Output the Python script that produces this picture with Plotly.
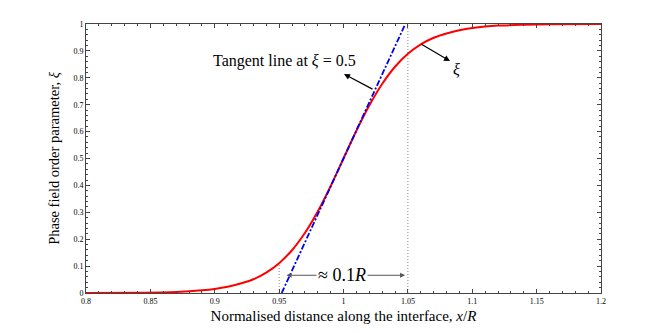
import plotly.graph_objects as go

# phase field profile
x_pos = [0.80, 0.84, 0.87, 0.89, 0.90, 0.91, 0.92, 0.93, 0.94, 0.95, 0.96, 0.97, 0.98, 0.99,
         1.00, 1.01, 1.02, 1.03, 1.04, 1.05, 1.06, 1.07, 1.08, 1.09, 1.10, 1.12, 1.14, 1.16, 1.20]
xi = [0.0, 0.001, 0.004, 0.010, 0.015, 0.023, 0.035, 0.051, 0.076, 0.111, 0.159, 0.223, 0.303, 0.397,
      0.5, 0.603, 0.697, 0.777, 0.841, 0.889, 0.924, 0.949, 0.965, 0.977, 0.985, 0.994, 0.997, 0.999, 1.0]

# tangent line at xi = 0.5
tan_x = [0.952, 1.048]
tan_y = [0.0, 1.0]

# dotted guides
guide_x = [0.95, 1.05]
guide_top = [0.111, 1.0]

x_ticks = [0.8, 0.85, 0.9, 0.95, 1.0, 1.05, 1.1, 1.15, 1.2]
x_labels = ["0.8", "0.85", "0.9", "0.95", "1", "1.05", "1.1", "1.15", "1.2"]
y_ticks = [0, 0.1, 0.2, 0.3, 0.4, 0.5, 0.6, 0.7, 0.8, 0.9, 1.0]
y_labels = ["0", "0.1", "0.2", "0.3", "0.4", "0.5", "0.6", "0.7", "0.8", "0.9", "1"]

serif = "'Liberation Serif', 'DejaVu Serif', serif"

fig = go.Figure()
for gx, gt in zip(guide_x, guide_top):
    fig.add_trace(go.Scatter(x=[gx, gx], y=[0, gt], mode="lines",
                             line=dict(color="#888888", width=1, dash="1px,2px"), hoverinfo="skip"))
fig.add_trace(go.Scatter(x=x_pos, y=xi, mode="lines", line=dict(color="#ff0000", width=2, shape="spline", smoothing=0.6)))
fig.add_trace(go.Scatter(x=tan_x, y=tan_y, mode="lines", line=dict(color="#0000ee", width=1.8, dash="6px,2px,2px,2px")))

axis_common = dict(showgrid=False, zeroline=False, showline=True, linecolor="#444444", linewidth=1,
                   mirror="allticks", ticks="inside", ticklen=4, tickcolor="#444444",
                   tickfont=dict(family=serif, size=8, color="black"))

fig.update_xaxes(range=[0.8, 1.2], tickvals=x_ticks, ticktext=x_labels,
                 minor=dict(dtick=0.01, ticks="inside", ticklen=2, tickcolor="#444444"),
                 title=dict(text="Normalised distance along the interface, <i>x</i>/<i>R</i>",
                            font=dict(family=serif, size=15, color="black"), standoff=5),
                 **axis_common)
fig.update_yaxes(range=[0, 1], tickvals=y_ticks, ticktext=y_labels,
                 minor=dict(dtick=0.02, ticks="inside", ticklen=2, tickcolor="#444444"),
                 title=dict(text="Phase field order parameter, <i>ξ</i>",
                            font=dict(family=serif, size=14.5, color="black"), standoff=10),
                 **axis_common)

# tangent label and arrow
fig.add_annotation(x=1.0004, y=0.814, ax=1.0237, ay=0.755, axref="x", ayref="y", text="",
                   showarrow=True, arrowhead=2, arrowsize=1, arrowwidth=1.2, arrowcolor="black")
fig.add_annotation(x=0.954, y=0.862, text="Tangent line at <i>ξ</i> = 0.5", showarrow=False,
                   font=dict(family=serif, size=16, color="black"))
# xi label and arrow
fig.add_annotation(x=1.0827, y=0.862, ax=1.0594, ay=0.928, axref="x", ayref="y", text="",
                   showarrow=True, arrowhead=2, arrowsize=1, arrowwidth=1.2, arrowcolor="black")
fig.add_annotation(x=1.0874, y=0.83, text="<i>ξ</i>", showarrow=False,
                   font=dict(family=serif, size=16, color="black"))
# width arrow
fig.add_annotation(x=1.0478, y=0.066, ax=0.9546, ay=0.066, axref="x", ayref="y", text="",
                   showarrow=True, arrowhead=2, arrowside="end+start", arrowsize=1, arrowwidth=1,
                   arrowcolor="#555555")
fig.add_annotation(x=0.9992, y=0.066, text="≈ 0.1<i>R</i>", showarrow=False, bgcolor="white",
                   font=dict(family=serif, size=18, color="black"))

# page body adds an 8px offset, so the figure is sized to fit inside it
fig.update_layout(width=656, height=325, margin=dict(l=78, r=63, t=16, b=37),
                  plot_bgcolor="white", paper_bgcolor="white", showlegend=False)

fig.write_html("out.html")
